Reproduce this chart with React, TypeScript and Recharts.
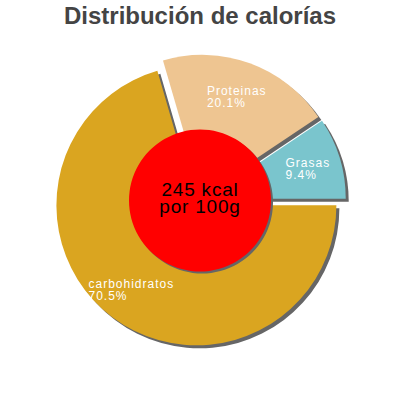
import { PieChart, Pie, Cell } from "recharts";

const categories = ["carbohidratos", "Proteinas", "Grasas"];
const percents = [70.5, 20.1, 9.4];
const colors = ["#DAA520", "#EEC591", "#7AC5CD"];
const energy = [{ label: "245 kcal", sub: "por 100g", value: 1 }];

const data = categories.map((name, i) => ({ name, value: percents[i] }));

const CX = 200;
const CY = 200.5;
const RADIUS = 140;
const EXPLODE = 6;
const SHADOW = 3;
const RAD = Math.PI / 180;
const FONT = "'Liberation Sans', Arial, sans-serif";

// mid angle of each slice, clockwise from 3 o'clock
const total = percents.reduce((a, b) => a + b, 0);
const midAngles = percents.map((p, i) => {
  const before = percents.slice(0, i).reduce((a, b) => a + b, 0);
  return -((before + p / 2) / total) * 360;
});

function offsetFor(i: number) {
  const a = midAngles[i] * RAD;
  return { dx: EXPLODE * Math.cos(a), dy: -EXPLODE * Math.sin(a) };
}

function sliceLabel(k: number) {
  return (props: any) => {
    if (props.index !== k) return <g />;
    const a = -props.midAngle * RAD;
    const r = 105;
    const lx = props.cx + r * Math.cos(a);
    const ly = props.cy + r * Math.sin(a);
    const pct = percents[k].toFixed(1) + "%";
    const w = Math.max(categories[k].length, pct.length) * 6.9;
    const x = lx - w / 2;
    return (
      <text
        x={x}
        y={ly - 1.5}
        fill="#ffffff"
        fontSize={12}
        fontFamily={FONT}
        letterSpacing={1}
        textAnchor="start"
      >
        <tspan x={x} y={ly - 1.5}>{categories[k]}</tspan>
        <tspan x={x} y={ly + 10.5}>{pct}</tspan>
      </text>
    );
  };
}

function centerLabel(props: any) {
  if (props.index !== 0) return <g />;
  return (
    <text
      x={props.cx}
      y={props.cy}
      fill="#000000"
      fontSize={19}
      fontFamily={FONT}
      letterSpacing={0.8}
      textAnchor="middle"
    >
      <tspan x={props.cx} y={props.cy - 4.5}>{energy[0].label}</tspan>
      <tspan x={props.cx} y={props.cy + 12.5}>{energy[0].sub}</tspan>
    </text>
  );
}

export default function App() {
  return (
    <div style={{ position: "relative", width: 400, height: 400, background: "#fff" }}>
      <style>{"body{margin:0}"}</style>
      <div
        style={{
          position: "absolute",
          top: 4,
          left: 0,
          width: 400,
          textAlign: "center",
          fontFamily: FONT,
          fontWeight: "bold",
          fontSize: 24,
          lineHeight: "24px",
          color: "#444444",
        }}
      >
        Distribución de calorías
      </div>
      <PieChart width={400} height={400} margin={{ top: 0, right: 0, bottom: 0, left: 0 }}>
        {/* shadows */}
        {categories.map((name, k) => {
          const { dx, dy } = offsetFor(k);
          return (
            <Pie
              key={"shadow-" + name}
              data={data}
              dataKey="value"
              nameKey="name"
              cx={CX + dx + SHADOW}
              cy={CY + dy + SHADOW}
              outerRadius={RADIUS}
              innerRadius={0}
              startAngle={0}
              endAngle={-360}
              stroke="none"
              isAnimationActive={false}
            >
              {data.map((d, i) => (
                <Cell key={d.name} fill={i === k ? "#666666" : "none"} stroke="none" />
              ))}
            </Pie>
          );
        })}
        {/* slices */}
        {categories.map((name, k) => {
          const { dx, dy } = offsetFor(k);
          return (
            <Pie
              key={"slice-" + name}
              data={data}
              dataKey="value"
              nameKey="name"
              cx={CX + dx}
              cy={CY + dy}
              outerRadius={RADIUS}
              innerRadius={0}
              startAngle={0}
              endAngle={-360}
              stroke="none"
              label={sliceLabel(k)}
              labelLine={false}
              isAnimationActive={false}
            >
              {data.map((d, i) => (
                <Cell key={d.name} fill={i === k ? colors[i] : "none"} stroke="none" />
              ))}
            </Pie>
          );
        })}
        {/* centre disc */}
        <Pie
          data={energy}
          dataKey="value"
          cx={CX + 2}
          cy={CY + 2}
          outerRadius={71}
          startAngle={0}
          endAngle={-360}
          fill="#666666"
          stroke="none"
          isAnimationActive={false}
        />
        <Pie
          data={energy}
          dataKey="value"
          cx={CX}
          cy={CY}
          outerRadius={71}
          startAngle={0}
          endAngle={-360}
          fill="#FF0000"
          stroke="none"
          label={centerLabel}
          labelLine={false}
          isAnimationActive={false}
        />
      </PieChart>
    </div>
  );
}
